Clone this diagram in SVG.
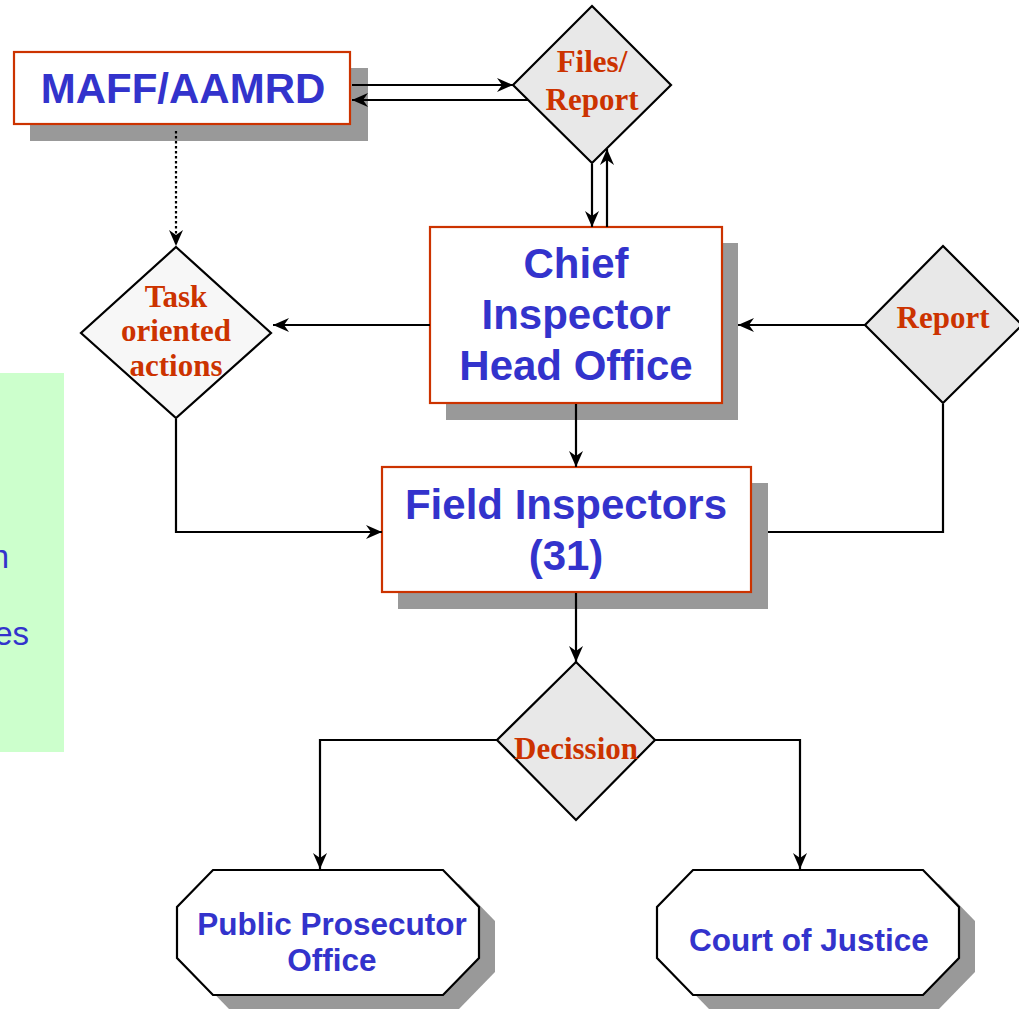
<svg xmlns="http://www.w3.org/2000/svg" width="1019" height="1010" viewBox="0 0 1019 1010">
  <defs>
    <marker id="arrow" viewBox="0 0 16 14" refX="16" refY="7" markerWidth="16" markerHeight="14" markerUnits="userSpaceOnUse" orient="auto">
      <path d="M0,0 L16,7 L0,14 L5,7 z" fill="#000"/>
    </marker>
    <style>
      .shadow { fill: #999999; }
      .box { fill: #ffffff; stroke: #cc3300; stroke-width: 2.2; }
      .oct { fill: #ffffff; stroke: #000; stroke-width: 2.2; }
      .dia { fill: #e8e8e8; stroke: #000; stroke-width: 2.2; }
      .dia-light { fill: #f7f7f7; stroke: #000; stroke-width: 2.2; }
      .big { font-family: "Liberation Sans", Arial, sans-serif; font-weight: bold; font-size: 42px; fill: #3333cc; text-anchor: middle; }
      .mid { font-family: "Liberation Sans", Arial, sans-serif; font-weight: bold; font-size: 31.5px; fill: #3333cc; text-anchor: middle; }
      .lbl { font-family: "Liberation Serif", "Times New Roman", serif; font-weight: bold; font-size: 31px; fill: #cc3300; text-anchor: middle; }
      .side { font-family: "Liberation Sans", Arial, sans-serif; font-size: 33px; fill: #3333cc; text-anchor: end; }
      .line { fill: none; stroke: #000; stroke-width: 2.2; }
      .arr { marker-end: url(#arrow); }
      .dot { stroke-dasharray: 2.5 2.5; }
    </style>
  </defs>

  <rect width="1019" height="1010" fill="#ffffff"/>

  <!-- side panel; its words run past the left edge -->
  <g id="side-panel">
    <rect x="0" y="373" width="64" height="379" fill="#ccffcc"/>
    <text class="side" x="9" y="568">n</text>
    <text class="side" x="29" y="645">es</text>
  </g>

  <!-- MAFF/AAMRD -->
  <g id="maff">
    <rect class="shadow" x="30" y="68" width="338" height="73"/>
    <rect class="box" x="14" y="52" width="336" height="72"/>
    <text class="big" x="183" y="103">MAFF/AAMRD</text>
  </g>

  <!-- Files / Report decision -->
  <g id="files-report">
    <polygon class="dia" points="592,6 671,85 592,163 513,85"/>
    <text class="lbl" x="592" y="72">Files/</text>
    <text class="lbl" x="592" y="110">Report</text>
  </g>

  <!-- Chief Inspector -->
  <g id="chief-inspector">
    <rect class="shadow" x="446" y="243" width="292" height="177"/>
    <rect class="box" x="430" y="227" width="292" height="176"/>
    <text class="big" x="576" y="278">Chief</text>
    <text class="big" x="576" y="329">Inspector</text>
    <text class="big" x="576" y="380">Head Office</text>
  </g>

  <!-- Task oriented actions -->
  <g id="task-actions">
    <polygon class="dia-light" points="176,247 271,333 176,418 81,333"/>
    <text class="lbl" x="176" y="307">Task</text>
    <text class="lbl" x="176" y="341">oriented</text>
    <text class="lbl" x="176" y="376">actions</text>
  </g>

  <!-- Report -->
  <g id="report">
    <polygon class="dia" points="943,246 1022,325 943,403 865,325"/>
    <text class="lbl" x="943" y="328">Report</text>
  </g>

  <!-- Field Inspectors -->
  <g id="field-inspectors">
    <rect class="shadow" x="398" y="483" width="370" height="126"/>
    <rect class="box" x="382" y="467" width="369" height="125"/>
    <text class="big" x="566" y="519">Field Inspectors</text>
    <text class="big" x="566" y="570">(31)</text>
  </g>

  <!-- Decission -->
  <g id="decission">
    <polygon class="dia" points="576,662 655,740 576,820 497,740"/>
    <text class="lbl" x="576" y="759">Decission</text>
  </g>

  <!-- Public Prosecutor Office -->
  <g id="public-prosecutor">
    <polygon class="shadow" points="229,884 459,884 495,921 495,972 459,1009 229,1009 193,972 193,921"/>
    <polygon class="oct" points="213,870 443,870 479,907 479,958 443,995 213,995 177,958 177,907"/>
    <text class="mid" x="332" y="935">Public Prosecutor</text>
    <text class="mid" x="332" y="971">Office</text>
  </g>

  <!-- Court of Justice -->
  <g id="court-of-justice">
    <polygon class="shadow" points="709,884 939,884 975,921 975,972 939,1009 709,1009 673,972 673,921"/>
    <polygon class="oct" points="693,870 923,870 959,907 959,958 923,995 693,995 657,958 657,907"/>
    <text class="mid" x="809" y="951">Court of Justice</text>
  </g>

  <!-- connectors, drawn over the drop shadows -->
  <g id="connectors">
    <line class="line arr" x1="352" y1="85" x2="513" y2="85"/>
    <line class="line arr" x1="528" y1="100" x2="352" y2="100"/>
    <line class="line arr" x1="592" y1="164" x2="592" y2="227"/>
    <line class="line arr" x1="607" y1="227" x2="607" y2="149"/>
    <line class="line arr dot" x1="176" y1="131" x2="176" y2="246"/>
    <line class="line arr" x1="430" y1="325" x2="273" y2="325"/>
    <line class="line arr" x1="865" y1="325" x2="738" y2="325"/>
    <polyline class="line" points="943,404 943,532 768,532"/>
    <polyline class="line arr" points="176,419 176,532 382,532"/>
    <line class="line arr" x1="576" y1="404" x2="576" y2="467"/>
    <line class="line arr" x1="576" y1="593" x2="576" y2="662"/>
    <polyline class="line arr" points="497,740 320,740 320,869"/>
    <polyline class="line arr" points="655,740 800,740 800,869"/>
  </g>
</svg>
